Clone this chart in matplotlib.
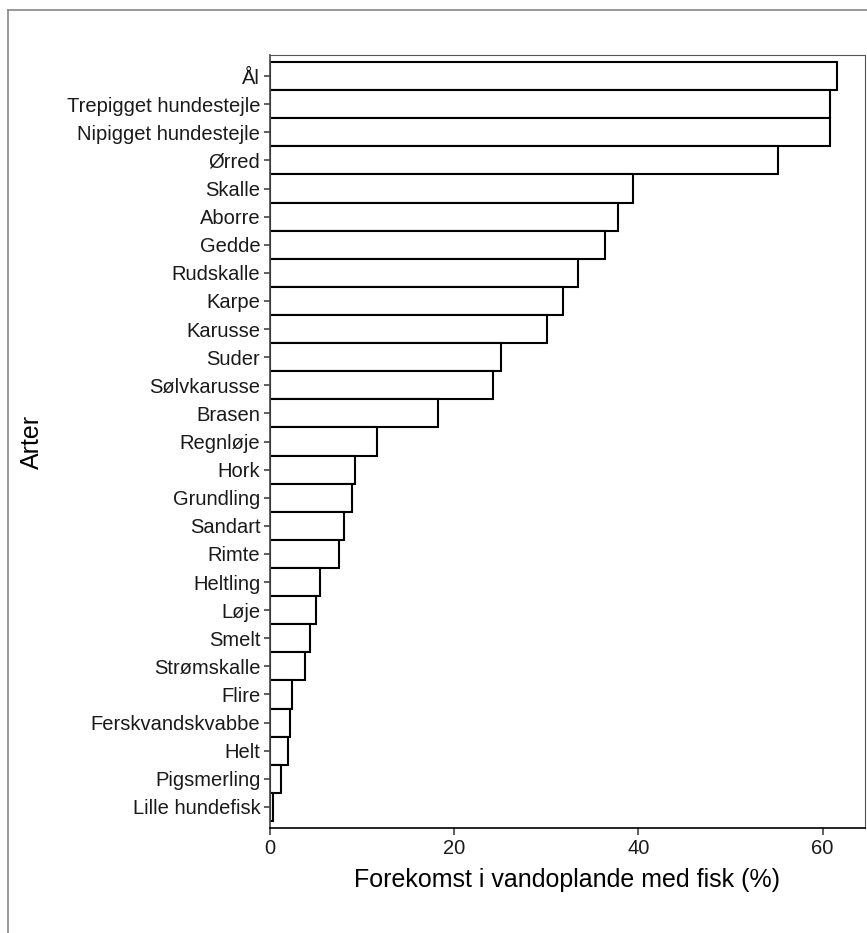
import matplotlib
matplotlib.use("Agg")
import matplotlib.pyplot as plt
from matplotlib.lines import Line2D

plt.rcParams['font.family'] = ['Liberation Sans', 'DejaVu Sans']

species = ["Ål", "Trepigget hundestejle", "Nipigget hundestejle", "Ørred", "Skalle",
           "Aborre", "Gedde", "Rudskalle", "Karpe", "Karusse", "Suder", "Sølvkarusse",
           "Brasen", "Regnløje", "Hork", "Grundling", "Sandart", "Rimte", "Heltling",
           "Løje", "Smelt", "Strømskalle", "Flire", "Ferskvandskvabbe", "Helt",
           "Pigsmerling", "Lille hundefisk"]
values = [61.6, 60.8, 60.8, 55.1, 39.4, 37.8, 36.4, 33.4, 31.8, 30.1, 25.1, 24.2,
          18.2, 11.6, 9.2, 8.9, 8.0, 7.5, 5.4, 5.0, 4.3, 3.8, 2.4, 2.2, 1.9, 1.2, 0.3]
xticks = [0, 20, 40, 60]

W, H = 867, 933
fig = plt.figure(figsize=(W / 100, H / 100), dpi=100)
ax = fig.add_axes([270 / W, 1 - 828 / H, (865 - 270) / W, (828 - 55) / H])

n = len(species)
ypos = list(range(n))[::-1]
ax.barh(ypos, values, height=1.0, color="white", edgecolor="black", linewidth=1.5)
ax.set_ylim(-0.75, n - 0.25)
ax.set_xlim(0, 64.6)
ax.set_yticks(ypos)
ax.set_yticklabels(species, fontsize=14.5, color="#1a1a1a")
ax.set_xticks(xticks)
ax.set_xticklabels([str(t) for t in xticks], fontsize=14.5, color="#1a1a1a")
ax.tick_params(axis="y", length=4, width=1.2, color="#444444", pad=3)
ax.tick_params(axis="x", length=5, width=1.2, color="#444444", pad=3)

for s in ["top", "right"]:
    ax.spines[s].set_color("#555555")
    ax.spines[s].set_linewidth(0.8)
ax.spines["left"].set_color("#444444")
ax.spines["left"].set_linewidth(1.2)
ax.spines["bottom"].set_color("black")
ax.spines["bottom"].set_linewidth(1.2)

ax.set_xlabel("Forekomst i vandoplande med fisk (%)", fontsize=18)
ax.set_ylabel("Arter", fontsize=18)
ax.xaxis.set_label_coords((567.5 - 270) / 595, (828 - 868) / 773)
ax.yaxis.set_label_coords((44 - 270) / 595, 0.5)

# outer frame (left and top visible)
fig.add_artist(Line2D([8 / W, 8 / W], [0, 1 - 10 / H], transform=fig.transFigure,
                      color="#888888", linewidth=1.2))
fig.add_artist(Line2D([8 / W, 1], [1 - 10 / H, 1 - 10 / H], transform=fig.transFigure,
                      color="#888888", linewidth=1.2))

fig.savefig("out.png", dpi=100)
